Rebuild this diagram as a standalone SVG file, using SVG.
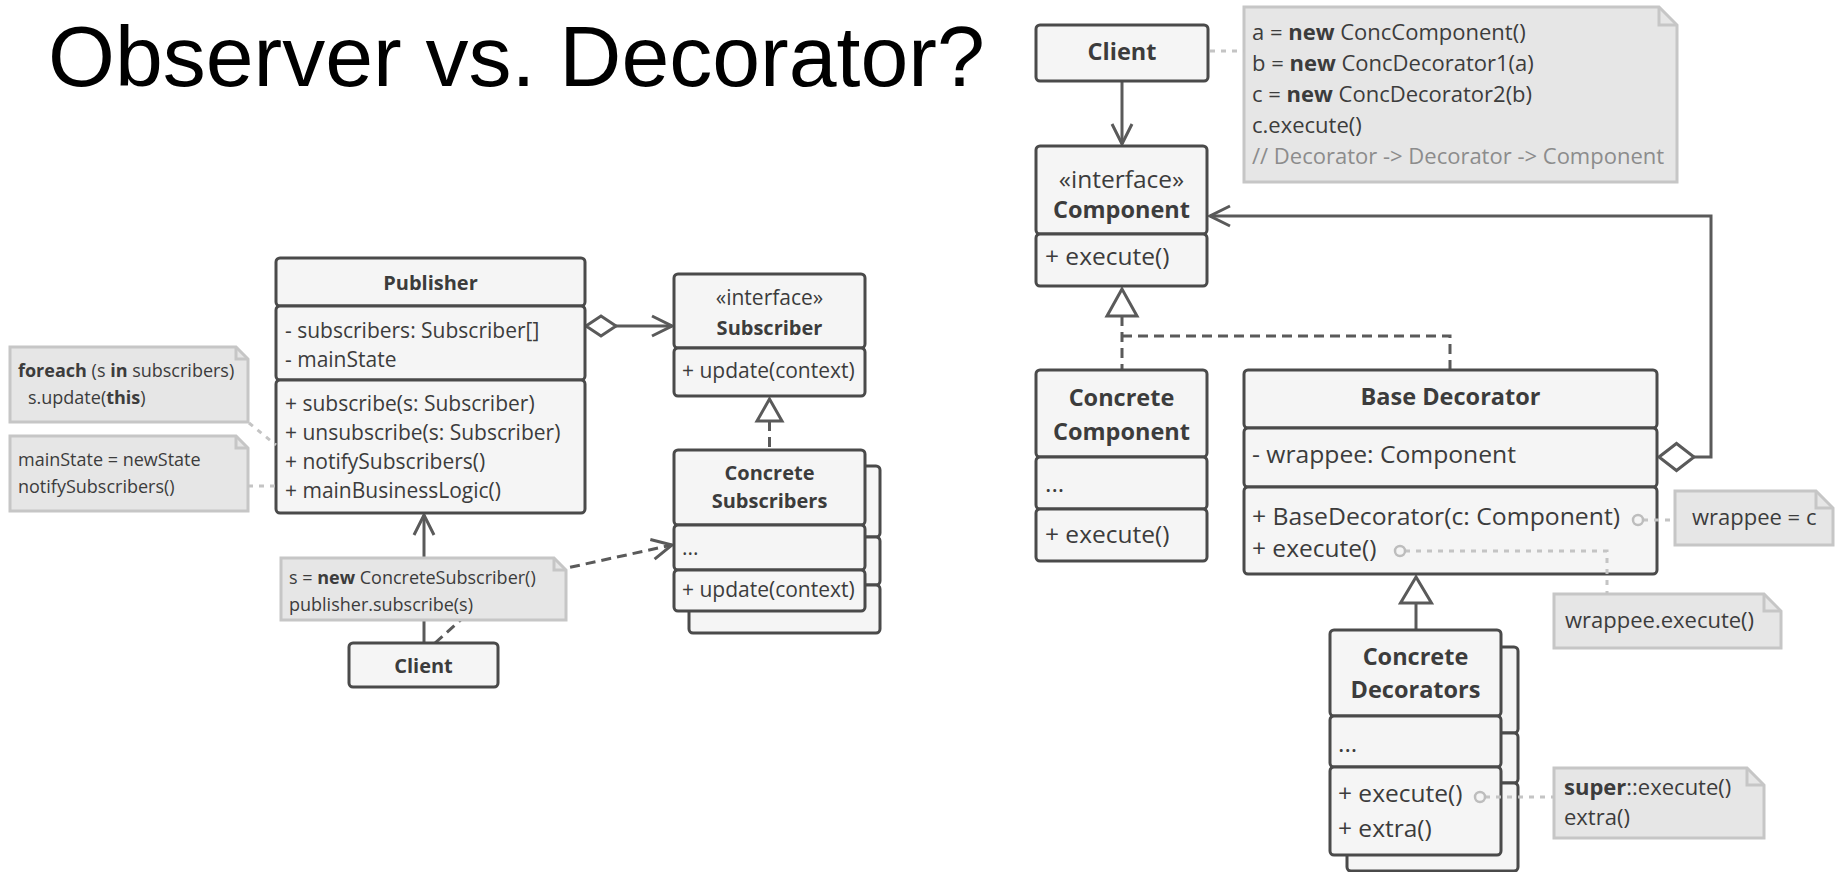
<svg xmlns="http://www.w3.org/2000/svg" width="1841" height="872" viewBox="0 0 1841 872">
  <defs>
    <style>
      text { font-family: 'Open Sans', 'Liberation Sans', sans-serif; fill: #3c3c3c; }
      .title { font-family: 'Liberation Sans', Arial, sans-serif; font-size: 86px; fill: #000; }
      .box { fill: #f5f5f5; stroke: #4a4a4a; stroke-width: 3; }
      .note { fill: #e6e6e6; stroke: #c6c6c6; stroke-width: 3; }
      .fold { fill: none; stroke: #c6c6c6; stroke-width: 3; }
      .sl { font-size: 21px; }
      .sh { font-size: 20px; font-weight: bold; }
      .sn { font-size: 18px; }
      .rl { font-size: 24.5px; }
      .rh { font-size: 23.5px; font-weight: bold; }
      .rn { font-size: 22px; }
      .b { font-weight: bold; }
      .c { text-anchor: middle; }
      .wire { fill: none; stroke: #5a5a5a; stroke-width: 3; }
      .dash { stroke-dasharray: 10 6; }
      .hint { fill: none; stroke: #c4c4c4; stroke-width: 3; stroke-dasharray: 5 6; }
      .pin { fill: #f5f5f5; stroke: #bdbdbd; stroke-width: 2.5; }
      .hollow { fill: #ffffff; stroke: #5a5a5a; stroke-width: 3; }
      .comment { fill: #8c8c8c; }
    </style>
    <marker id="arrow" viewBox="0 0 24 24" refX="22" refY="12" markerWidth="24" markerHeight="24" markerUnits="userSpaceOnUse" orient="auto">
      <path d="M2,2 L22,12 L2,22" fill="none" stroke="#5a5a5a" stroke-width="3"/>
    </marker>
  </defs>

  <rect width="1841" height="872" fill="#ffffff"/>

  <text class="title" x="48" y="86">Observer vs. Decorator?</text>

  <!-- relations between classes -->
  <g id="connectors">
    <!-- Observer side -->
    <path class="wire" d="M424 643 V515" marker-end="url(#arrow)"/>
    <path class="wire dash" d="M435 643 L503 582 L672 545" marker-end="url(#arrow)"/>
    <path class="wire" d="M616 326 H672" marker-end="url(#arrow)"/>
    <polygon class="hollow" points="586,326 601,316 616,326 601,336"/>
    <path class="wire dash" d="M769.5 421 V450"/>
    <polygon class="hollow" points="769.5,399 757,421 782,421"/>

    <!-- Decorator side -->
    <path class="wire" d="M1122 81 V144" marker-end="url(#arrow)"/>
    <path class="wire dash" d="M1122 316 V370 M1122 336 H1450 V370"/>
    <polygon class="hollow" points="1122,289 1107,316 1137,316"/>
    <path class="wire" d="M1694 457 H1711 V216 H1210" marker-end="url(#arrow)"/>
    <polygon class="hollow" points="1659,457 1676.5,443.5 1694,457 1676.5,470.5"/>
    <path class="wire" d="M1416 603 V630"/>
    <polygon class="hollow" points="1416,577 1400.5,603 1431.5,603"/>
  </g>

  <!-- Observer pattern -->
  <g id="publisher">
    <rect class="box" x="276" y="258" width="309" height="48" rx="4"/>
    <rect class="box" x="276" y="306" width="309" height="74" rx="4"/>
    <rect class="box" x="276" y="380" width="309" height="133" rx="4"/>
    <text class="sh c" x="430.5" y="290">Publisher</text>
    <text class="sl" x="285" y="338">- subscribers: Subscriber[]</text>
    <text class="sl" x="285" y="367">- mainState</text>
    <text class="sl" x="285" y="411">+ subscribe(s: Subscriber)</text>
    <text class="sl" x="285" y="440">+ unsubscribe(s: Subscriber)</text>
    <text class="sl" x="285" y="469">+ notifySubscribers()</text>
    <text class="sl" x="285" y="498">+ mainBusinessLogic()</text>
  </g>

  <g id="subscriber">
    <rect class="box" x="674" y="274" width="191" height="74" rx="4"/>
    <rect class="box" x="674" y="348" width="191" height="48" rx="4"/>
    <text class="sl c" x="769.5" y="305">«interface»</text>
    <text class="sh c" x="769.5" y="335">Subscriber</text>
    <text class="sl" x="682" y="378">+ update(context)</text>
  </g>

  <g id="concrete-subscribers">
    <rect class="box" x="689" y="466" width="191" height="71" rx="4"/>
    <rect class="box" x="689" y="537" width="191" height="48" rx="4"/>
    <rect class="box" x="689" y="585" width="191" height="48" rx="4"/>
    <rect class="box" x="674" y="450" width="191" height="75" rx="4"/>
    <rect class="box" x="674" y="525" width="191" height="45" rx="4"/>
    <rect class="box" x="674" y="570" width="191" height="41" rx="4"/>
    <text class="sh c" x="769.5" y="480">Concrete</text>
    <text class="sh c" x="769.5" y="508">Subscribers</text>
    <text class="sl" x="682" y="555">...</text>
    <text class="sl" x="682" y="597">+ update(context)</text>
  </g>

  <g id="observer-client">
    <rect class="box" x="349" y="643" width="149" height="44" rx="4"/>
    <text class="sh c" x="423.5" y="673">Client</text>
  </g>

  <g id="note-notify">
    <path class="note" d="M10 347 H236 L248 359 V422 H10 Z"/>
    <path class="fold" d="M236 347 V359 H248"/>
    <text class="sn" x="18" y="377"><tspan class="b">foreach</tspan> (s <tspan class="b">in</tspan> subscribers)</text>
    <text class="sn" x="28" y="404">s.update(<tspan class="b">this</tspan>)</text>
  </g>

  <g id="note-business">
    <path class="note" d="M10 436 H236 L248 448 V511 H10 Z"/>
    <path class="fold" d="M236 436 V448 H248"/>
    <text class="sn" x="18" y="466">mainState = newState</text>
    <text class="sn" x="18" y="493">notifySubscribers()</text>
  </g>

  <g id="note-subscribe">
    <path class="note" d="M281 558 H554 L566 570 V620 H281 Z"/>
    <path class="fold" d="M554 558 V570 H566"/>
    <text class="sn" x="289" y="584">s = <tspan class="b">new</tspan> ConcreteSubscriber()</text>
    <text class="sn" x="289" y="611">publisher.subscribe(s)</text>
  </g>

  <!-- Decorator pattern -->
  <g id="decorator-client">
    <rect class="box" x="1036" y="25" width="172" height="56" rx="4"/>
    <text class="rh c" x="1122" y="60">Client</text>
  </g>

  <g id="note-client">
    <path class="note" d="M1244 7 H1659 L1677 25 V182 H1244 Z"/>
    <path class="fold" d="M1659 7 V25 H1677"/>
    <text class="rn" x="1252" y="40">a = <tspan class="b">new</tspan> ConcComponent()</text>
    <text class="rn" x="1252" y="71">b = <tspan class="b">new</tspan> ConcDecorator1(a)</text>
    <text class="rn" x="1252" y="102">c = <tspan class="b">new</tspan> ConcDecorator2(b)</text>
    <text class="rn" x="1252" y="133">c.execute()</text>
    <text class="rn comment" x="1252" y="164">// Decorator -&gt; Decorator -&gt; Component</text>
  </g>

  <g id="component">
    <rect class="box" x="1036" y="146" width="171" height="88" rx="4"/>
    <rect class="box" x="1036" y="234" width="171" height="52" rx="4"/>
    <text class="rl c" x="1121.5" y="188">«interface»</text>
    <text class="rh c" x="1121.5" y="218">Component</text>
    <text class="rl" x="1045" y="265">+ execute()</text>
  </g>

  <g id="concrete-component">
    <rect class="box" x="1036" y="370" width="171" height="87" rx="4"/>
    <rect class="box" x="1036" y="457" width="171" height="52" rx="4"/>
    <rect class="box" x="1036" y="509" width="171" height="52" rx="4"/>
    <text class="rh c" x="1121.5" y="406">Concrete</text>
    <text class="rh c" x="1121.5" y="440">Component</text>
    <text class="rl" x="1045" y="492">...</text>
    <text class="rl" x="1045" y="543">+ execute()</text>
  </g>

  <g id="base-decorator">
    <rect class="box" x="1244" y="370" width="413" height="58" rx="4"/>
    <rect class="box" x="1244" y="428" width="413" height="59" rx="4"/>
    <rect class="box" x="1244" y="487" width="413" height="87" rx="4"/>
    <text class="rh c" x="1450.5" y="405">Base Decorator</text>
    <text class="rl" x="1252" y="463" textLength="264" lengthAdjust="spacingAndGlyphs">- wrappee: Component</text>
    <text class="rl" x="1252" y="525" textLength="368" lengthAdjust="spacingAndGlyphs">+ BaseDecorator(c: Component)</text>
    <text class="rl" x="1252" y="557">+ execute()</text>
  </g>

  <g id="concrete-decorators">
    <rect class="box" x="1347" y="647" width="171" height="86" rx="4"/>
    <rect class="box" x="1347" y="733" width="171" height="50" rx="4"/>
    <rect class="box" x="1347" y="783" width="171" height="88" rx="4"/>
    <rect class="box" x="1330" y="630" width="171" height="86" rx="4"/>
    <rect class="box" x="1330" y="716" width="171" height="51" rx="4"/>
    <rect class="box" x="1330" y="767" width="171" height="88" rx="4"/>
    <text class="rh c" x="1415.5" y="665">Concrete</text>
    <text class="rh c" x="1415.5" y="698">Decorators</text>
    <text class="rl" x="1338" y="752">...</text>
    <text class="rl" x="1338" y="802">+ execute()</text>
    <text class="rl" x="1338" y="837">+ extra()</text>
  </g>

  <g id="note-wrappee">
    <path class="note" d="M1675 491 H1816 L1833 508 V545 H1675 Z"/>
    <path class="fold" d="M1816 491 V508 H1833"/>
    <text class="rn" x="1692" y="525">wrappee = c</text>
  </g>

  <g id="note-delegate">
    <path class="note" d="M1554 594 H1764 L1781 611 V648 H1554 Z"/>
    <path class="fold" d="M1764 594 V611 H1781"/>
    <text class="rn" x="1565" y="628">wrappee.execute()</text>
  </g>

  <g id="note-extra">
    <path class="note" d="M1554 768 H1747 L1764 785 V838 H1554 Z"/>
    <path class="fold" d="M1747 768 V785 H1764"/>
    <text class="rn" x="1564" y="795"><tspan class="b">super</tspan>::execute()</text>
    <text class="rn" x="1564" y="825">extra()</text>
  </g>

  <!-- links from members to their notes -->
  <g id="note-links">
    <path class="hint" d="M249 423 L276 445"/>
    <path class="hint" d="M248 486 H276"/>
    <path class="hint" d="M1210 51 H1244"/>
    <path class="hint" d="M1643 520 H1675"/>
    <path class="hint" d="M1405 551 H1607 V594"/>
    <path class="hint" d="M1485 797 H1554"/>
    <circle class="pin" cx="1638" cy="520" r="5"/>
    <circle class="pin" cx="1400" cy="551" r="5"/>
    <circle class="pin" cx="1480" cy="797" r="5"/>
  </g>
</svg>
